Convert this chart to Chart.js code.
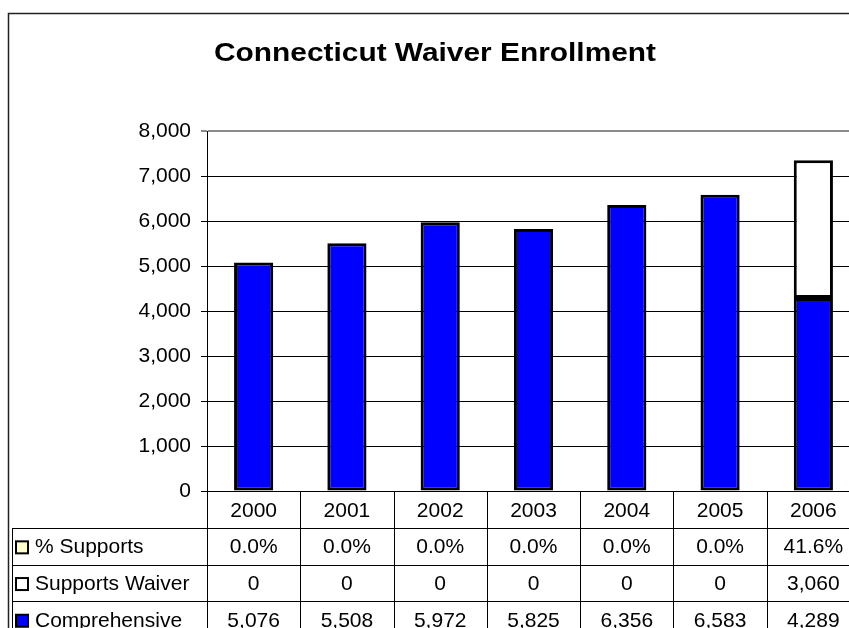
<!DOCTYPE html>
<html>
<head>
<meta charset="utf-8">
<title>Connecticut Waiver Enrollment</title>
<script src="https://cdn.jsdelivr.net/npm/chart.js@4.4.0/dist/chart.umd.min.js"></script>
<style>
  html, body { margin: 0; padding: 0; overflow: hidden; background: #fff; }
  canvas { display: block; }
</style>
</head>
<body>
<canvas id="enrollChart" width="868" height="628"></canvas>
<script>
// enrollment by year
const years = ['2000', '2001', '2002', '2003', '2004', '2005', '2006'];
const comprehensive = [5076, 5508, 5972, 5825, 6356, 6583, 4289];
const supportsWaiver = [0, 0, 0, 0, 0, 0, 3060];
const pctSupports = [0.0, 0.0, 0.0, 0.0, 0.0, 0.0, 41.6];
const yMax = 8000;
const yStep = 1000;

const TITLE = 'Connecticut Waiver Enrollment';
const FONT = "'Liberation Sans', Arial, sans-serif";

// rows of the data table under the plot, top to bottom
const tableRows = [
    { label: '% Supports', fill: '#FFFFCC', values: pctSupports.map(v => v.toFixed(1) + '%') },
    { label: 'Supports Waiver', fill: '#FFFFFF', values: supportsWaiver.map(v => v.toLocaleString('en-US')) },
    { label: 'Comprehensive', fill: '#0000FF', values: comprehensive.map(v => v.toLocaleString('en-US')) }
];

// white background, outer chart frame and the (wide) title
const frame = {
    id: 'frame',
    beforeDraw(chart) {
        const ctx = chart.ctx;
        ctx.save();
        ctx.fillStyle = '#fff';
        ctx.fillRect(0, 0, chart.width, chart.height);
        ctx.strokeStyle = '#222';
        ctx.lineWidth = 1.5;
        ctx.strokeRect(8.5, 13.5, chart.width, chart.height);

        // title is stretched a bit wider than the plain bold face
        ctx.font = 'bold 25px ' + FONT;
        ctx.fillStyle = '#000';
        ctx.textAlign = 'center';
        ctx.textBaseline = 'middle';
        const w = ctx.measureText(TITLE).width;
        ctx.translate(435, 54);
        ctx.scale(442 / w, 1);
        ctx.fillText(TITLE, 0, 0);
        ctx.restore();
    }
};

// data table drawn against the x scale
const dataTable = {
    id: 'dataTable',
    afterDraw(chart) {
        const ctx = chart.ctx;
        const x = chart.scales.x;
        const area = chart.chartArea;
        const step = x.getPixelForValue(1) - x.getPixelForValue(0);
        const headerBottom = area.bottom + 37;
        const rowH = 36.7;
        const bottom = chart.height + 10;

        ctx.save();
        ctx.strokeStyle = '#000';
        ctx.lineWidth = 1;

        // column separators
        for (let i = 0; i <= years.length; i++) {
            const bx = Math.round(x.getPixelForValue(i) - step / 2) + 0.5;
            ctx.beginPath();
            ctx.moveTo(bx, area.bottom);
            ctx.lineTo(bx, bottom);
            ctx.stroke();
        }

        // row lines
        for (let r = 0; r <= tableRows.length; r++) {
            const ry = Math.round(headerBottom + r * rowH) + 0.5;
            ctx.beginPath();
            ctx.moveTo(12, ry);
            ctx.lineTo(area.right, ry);
            ctx.stroke();
        }
        ctx.beginPath();
        ctx.moveTo(12.5, headerBottom);
        ctx.lineTo(12.5, bottom);
        ctx.stroke();

        ctx.font = '21px ' + FONT;
        ctx.textBaseline = 'middle';
        tableRows.forEach((row, r) => {
            const cy = headerBottom + r * rowH + rowH / 2 + 1;
            // legend key
            ctx.fillStyle = row.fill;
            ctx.fillRect(16, cy - 6, 12, 12);
            ctx.lineWidth = 2;
            ctx.strokeRect(16, cy - 6, 12, 12);
            ctx.lineWidth = 1;
            ctx.fillStyle = '#000';
            ctx.textAlign = 'left';
            ctx.fillText(row.label, 35, cy);
            ctx.textAlign = 'center';
            row.values.forEach((v, i) => {
                ctx.fillText(v, x.getPixelForValue(i), cy);
            });
        });
        ctx.restore();
    }
};

const ctx = document.getElementById('enrollChart').getContext('2d');

new Chart(ctx, {
    type: 'bar',
    data: {
        labels: years,
        datasets: [
            {
                label: 'Comprehensive',
                data: comprehensive,
                backgroundColor: '#0000FF',
                borderColor: '#000',
                borderWidth: 3,
                borderSkipped: false
            },
            {
                label: 'Supports Waiver',
                data: supportsWaiver,
                backgroundColor: '#FFFFFF',
                borderColor: '#000',
                borderWidth: 3,
                borderSkipped: false
            }
        ]
    },
    options: {
        responsive: false,
        animation: false,
        devicePixelRatio: 1,
        barPercentage: 0.42,
        categoryPercentage: 1,
        layout: { padding: { left: 0, right: 8, top: 131, bottom: 0 } },
        plugins: {
            legend: { display: false },
            tooltip: { enabled: false },
            title: { display: false }
        },
        scales: {
            x: {
                stacked: true,
                grid: { display: false },
                border: { display: false },
                ticks: { color: '#000', font: { family: FONT, size: 21 }, padding: 0 },
                afterFit(scale) { scale.height = 137; }
            },
            y: {
                stacked: true,
                min: 0,
                max: yMax,
                ticks: {
                    stepSize: yStep,
                    color: '#000',
                    padding: 10,
                    font: { family: FONT, size: 21 },
                    callback: v => v.toLocaleString('en-US')
                },
                grid: {
                    color: c => (c.tick && c.tick.value === yMax) ? '#8a8a8a' : '#000',
                    lineWidth: c => (c.tick && c.tick.value === yMax) ? 2 : 1,
                    tickLength: 6
                },
                border: { color: '#000', width: 1 },
                afterFit(scale) { scale.width = 207; }
            }
        }
    },
    plugins: [frame, dataTable]
});
</script>
</body>
</html>
